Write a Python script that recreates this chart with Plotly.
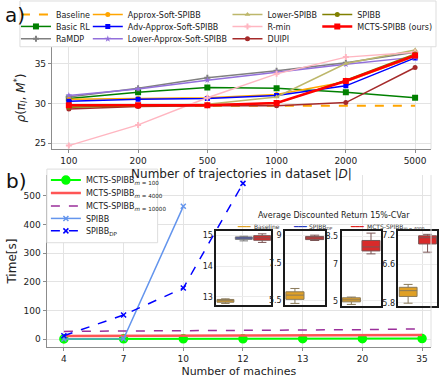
import plotly.graph_objects as go

W, H = 439, 378
def X(p): return p / W
def Y(p): return 1 - p / H

FONT = "DejaVu Sans"

# ---------------- panel a data ----------------
dataset_sizes = ["100", "200", "500", "1000", "2000", "5000"]
baseline_a = [29.7, 29.7, 29.7, 29.7, 29.7, 29.7]
basic_rl = [30.6, 31.4, 32.0, 31.9, 31.4, 30.7]
ramdp = [30.8, 31.9, 33.2, 34.1, 35.1, 36.4]
approx_soft = [30.5, 30.6, 30.7, 31.1, 32.7, 35.9]
adv_approx_soft = [30.25, 30.5, 30.6, 31.0, 32.2, 35.7]
lower_approx_soft = [31.0, 31.8, 32.9, 33.9, 34.9, 35.8]
lower_spibb = [29.6, 29.7, 29.9, 30.8, 35.0, 36.7]
r_min = [24.7, 27.3, 30.7, 33.7, 35.8, 36.4]
duipi = [29.3, 29.6, 29.7, 29.7, 30.1, 34.5]
spibb_a = [29.5, 29.7, 29.8, 30.0, 32.9, 36.2]
mcts_a = [29.75, 29.75, 29.75, 30.05, 32.8, 36.0]
ticks_a = [25, 30, 35]

# ---------------- panel b data ----------------
machines = ["4", "7", "10", "12", "13", "20", "35"]
mcts_m100 = [0.8, 1.0, 1.1, 1.2, 1.3, 1.5, 1.8]
mcts_m4000 = [11, 11.5, 12, 12.5, 12.5, 13, 14]
mcts_m10000 = [27, 28, 29, 30, 31, 33, 36]
spibb_machines = ["4", "7", "10"]
spibb_time = [0.5, 1.0, 463]
spibb_dp_machines = ["4", "7", "10", "12"]
spibb_dp_time = [12, 84, 178, 543]
ticks_b = [0, 100, 200, 300, 400, 500]

# ---------------- inset box data (15%-CVaR) ----------------
inset_machines = ["12", "13", "20", "35"]
base_q1 = [12.82, 5.54, 4.94, 5.93]
base_med = [12.87, 5.77, 5.05, 6.05]
base_q3 = [12.91, 5.95, 5.16, 6.12]
base_lo = [12.78, 5.32, 4.80, 5.79]
base_hi = [12.93, 6.13, 5.20, 6.18]
dp_q1 = [14.87]
dp_med = [14.91]
dp_q3 = [14.95]
dp_lo = [14.82]
dp_hi = [14.97]
mcts_q1 = [14.84, 8.78, 7.71, 7.02]
mcts_med = [14.92, 8.87, 7.93, 7.15]
mcts_q3 = [14.99, 8.95, 8.28, 7.19]
mcts_lo = [14.77, 8.73, 7.55, 6.85]
mcts_hi = [15.05, 9.02, 8.68, 7.22]
inset_ranges = [[12.74, 15.14], [5.23, 9.22], [4.71, 8.77], [5.73, 7.28]]
inset_ticks = [[13, 14, 15], [5.5, 7.5, 9], [5, 7, 8.5], [5.8, 6.6, 7.2]]
inset_ticktext = [["13", "14", "15"], ["5.5", "7.5", "9"], ["5", "7", "8.5"], ["5.8", "6.6", "7.2"]]

fig = go.Figure()

# ---- panel a traces ----
series_a = [
    ("Baseline", baseline_a, "#ffa500", "dash", None, 2, 1),
    ("Basic RL", basic_rl, "#008000", "solid", "square", 1.5, 2),
    ("RaMDP", ramdp, "#808080", "solid", "cross", 1.5, 3),
    ("Approx-Soft-SPIBB", approx_soft, "#ffa500", "solid", "circle", 1.5, 1),
    ("Adv-Approx-Soft-SPIBB", adv_approx_soft, "#0000ff", "solid", "square", 1.5, 2),
    ("Lower-Approx-Soft-SPIBB", lower_approx_soft, "#9370db", "solid", "star", 1.5, 3),
    ("Lower-SPIBB", lower_spibb, "#bdb76b", "solid", "triangle-up", 1.5, 1),
    ("R-min", r_min, "#ffb6c1", "solid", "cross", 1.5, 2),
    ("DUIPI", duipi, "#a52a2a", "solid", "circle", 1.5, 3),
    ("SPIBB", spibb_a, "#808000", "solid", "circle", 1.5, 1),
    ("MCTS-SPIBB (ours)", mcts_a, "#ff0000", "solid", "square", 2.5, 2),
]
col_text_x = {"Baseline": 56, "Basic RL": 56, "RaMDP": 56,
              "Approx-Soft-SPIBB": 128, "Adv-Approx-Soft-SPIBB": 128, "Lower-Approx-Soft-SPIBB": 128,
              "Lower-SPIBB": 268, "R-min": 268, "DUIPI": 268,
              "SPIBB": 358, "MCTS-SPIBB (ours)": 358}
row_y = {1: 14, 2: 26.5, 3: 39}

legend_layouts = {}
li = 1
for name, vals, col, dash, sym, lw, row in series_a:
    lname = "legend" if li == 1 else f"legend{li}"
    mode = "lines" if sym is None else "lines+markers"
    msize = 6 if name in ("Basic RL", "MCTS-SPIBB (ours)") else 5
    fig.add_trace(go.Scatter(
        x=dataset_sizes, y=vals, name=name, mode=mode,
        line=dict(color=col, width=lw, dash=dash),
        marker=dict(symbol=sym or "circle", size=msize, color=col),
        xaxis="x", yaxis="y", legend=lname))
    legend_layouts[lname] = dict(
        x=X(col_text_x[name] - 40), y=Y(row_y[row] - 14.5), xanchor="left", yanchor="top",
        bgcolor="rgba(0,0,0,0)", borderwidth=0, font=dict(family=FONT, size=8, color="#222"))
    li += 1

# ---- panel b traces ----
series_b = [
    ("MCTS-SPIBB<sub><i>m</i> = 100</sub>", machines, mcts_m100, "#00ff00", "solid", "circle", 2, 8, 181),
    ("MCTS-SPIBB<sub><i>m</i> = 4000</sub>", machines, mcts_m4000, "#ff5555", "solid", None, 2.5, 0, 194),
    ("MCTS-SPIBB<sub><i>m</i> = 10000</sub>", machines, mcts_m10000, "#9b2f9b", "dash", None, 1.5, 0, 207),
    ("SPIBB", spibb_machines, spibb_time, "#6495ed", "solid", "x-thin", 1.5, 5, 219.5),
    ("SPIBB<sub>DP</sub>", spibb_dp_machines, spibb_dp_time, "#0000ff", "dash", "x-thin", 1.5, 5, 232),
]
for name, xs, vals, col, dash, sym, lw, ms, ry in series_b:
    lname = f"legend{li}"
    mode = "lines" if sym is None else "lines+markers"
    fig.add_trace(go.Scatter(
        x=xs, y=vals, name=name, mode=mode,
        line=dict(color=col, width=lw, dash=dash),
        marker=dict(symbol=sym or "circle", size=ms, color=col, line=dict(color=col, width=1.5)),
        xaxis="x2", yaxis="y2", legend=lname))
    legend_layouts[lname] = dict(
        x=X(86 - 40), y=Y(ry - 14.5), xanchor="left", yanchor="top",
        bgcolor="rgba(0,0,0,0)", borderwidth=0, font=dict(family=FONT, size=8, color="#222"))
    li += 1

# ---- inset boxes ----
BASE_FILL, DP_FILL, MCTS_FILL = "#e0a025", "#2a3bc0", "#d92a2a"
for k in range(4):
    ax = k + 3
    fig.add_trace(go.Box(
        x=["Baseline"], q1=[base_q1[k]], median=[base_med[k]], q3=[base_q3[k]],
        lowerfence=[base_lo[k]], upperfence=[base_hi[k]], width=0.92,
        fillcolor=BASE_FILL, line=dict(color="#8a7a5a", width=1), whiskerwidth=0.5,
        boxpoints=False, showlegend=False, xaxis=f"x{ax}", yaxis=f"y{ax}", name="Baseline"))
    if k == 0:
        fig.add_trace(go.Box(
            x=["SPIBB_DP"], q1=dp_q1, median=dp_med, q3=dp_q3,
            lowerfence=dp_lo, upperfence=dp_hi, width=0.92,
            fillcolor=DP_FILL, line=dict(color="#777777", width=1), whiskerwidth=0.5,
            boxpoints=False, showlegend=False, xaxis=f"x{ax}", yaxis=f"y{ax}", name="SPIBB_DP"))
    fig.add_trace(go.Box(
        x=["MCTS"], q1=[mcts_q1[k]], median=[mcts_med[k]], q3=[mcts_q3[k]],
        lowerfence=[mcts_lo[k]], upperfence=[mcts_hi[k]], width=0.92,
        fillcolor=MCTS_FILL, line=dict(color="#7a5555", width=1), whiskerwidth=0.5,
        boxpoints=False, showlegend=False, xaxis=f"x{ax}", yaxis=f"y{ax}", name="MCTS"))

GRID = "#e3e3e3"
SPINE = "#8c8c8c"
axfont = dict(family=FONT, size=9, color="#222")

layout = dict(
    width=W, height=H, margin=dict(l=0, r=0, t=0, b=0),
    paper_bgcolor="white", plot_bgcolor="rgba(0,0,0,0)",
    font=dict(family=FONT, color="#222"),
    xaxis=dict(domain=[X(52), X(432)], anchor="y", type="category",
               categoryorder="array", categoryarray=dataset_sizes,
               range=[-0.245, 5.23], showgrid=True, gridcolor=GRID,
               showline=True, linecolor=SPINE, ticks="outside", ticklen=3, tickcolor=SPINE,
               tickfont=axfont, zeroline=False,
               title=dict(text="Number of trajectories in dataset |<i>D</i>|",
                          font=dict(family=FONT, size=12), standoff=4)),
    yaxis=dict(domain=[Y(150), Y(47)], anchor="x", range=[24.25, 37.1],
               tickvals=ticks_a, showgrid=True, gridcolor=GRID,
               showline=True, linecolor=SPINE, ticks="outside", ticklen=3, tickcolor=SPINE,
               tickfont=axfont, zeroline=False,
               title=dict(text="<i>ρ</i>(<i>π<sub>I</sub></i>, <i>M</i><sup>*</sup>)",
                          font=dict(family=FONT, size=12), standoff=6)),
    xaxis2=dict(domain=[X(46.7), X(432)], anchor="y2", type="category",
                categoryorder="array", categoryarray=machines,
                range=[-0.29, 6.15], showgrid=True, gridcolor=GRID,
                showline=True, linecolor=SPINE, ticks="outside", ticklen=3, tickcolor=SPINE,
                tickfont=axfont, zeroline=False,
                title=dict(text="Number of machines", font=dict(family=FONT, size=11), standoff=6)),
    yaxis2=dict(domain=[Y(349), Y(176)], anchor="x2", range=[-28, 572],
                tickvals=ticks_b, showgrid=True, gridcolor=GRID,
                showline=True, linecolor=SPINE, ticks="outside", ticklen=3, tickcolor=SPINE,
                tickfont=axfont, zeroline=False,
                title=dict(text="Time[s]", font=dict(family=FONT, size=12), standoff=4)),
)

inset_px = [(216.7, 272.0, 232.3, 306.3), (285.7, 325.3, 232.7, 306.7),
            (342.3, 381.7, 232.7, 307.7), (399.3, 438.3, 232.7, 307.7)]
for k in range(4):
    ax = k + 3
    x0, x1, y0, y1 = inset_px[k]
    cats = ["Baseline", "SPIBB_DP", "MCTS"] if k == 0 else ["Baseline", "MCTS"]
    layout[f"xaxis{ax}"] = dict(domain=[X(x0), X(x1)], anchor=f"y{ax}", type="category",
                                categoryorder="array", categoryarray=cats,
                                range=[-0.5, len(cats) - 0.5], showticklabels=False,
                                showgrid=False, showline=True, mirror=True,
                                linecolor="#1a1a1a", linewidth=1.5, ticks="", zeroline=False)
    layout[f"yaxis{ax}"] = dict(domain=[Y(y1), Y(y0)], anchor=f"x{ax}", range=inset_ranges[k],
                                tickvals=inset_ticks[k], ticktext=inset_ticktext[k],
                                showgrid=True, gridcolor="#ececec", showline=True, mirror=True,
                                linecolor="#1a1a1a", linewidth=1.5, ticks="", zeroline=False,
                                tickfont=dict(family=FONT, size=8, color="#222"))

layout.update(legend_layouts)
fig.update_layout(**layout)

# legend frames and decorations
fig.add_shape(type="rect", xref="paper", yref="paper", x0=X(20), x1=X(437), y0=Y(47), y1=Y(1),
              line=dict(color="#dddddd", width=1), fillcolor="white", layer="above")
fig.add_shape(type="rect", xref="paper", yref="paper", x0=X(47), x1=X(158), y0=Y(244), y1=Y(170),
              line=dict(color="#dddddd", width=1), fillcolor="white", layer="above")
fig.add_shape(type="line", xref="x domain", yref="y domain", x0=1, x1=1, y0=0, y1=1,
              line=dict(color="#e0e0e0", width=1))
fig.add_shape(type="line", xref="x2 domain", yref="y2 domain", x0=1, x1=1, y0=0, y1=1,
              line=dict(color="#e0e0e0", width=1))

fig.add_annotation(text="a)", xref="paper", yref="paper", x=X(3), y=Y(15), xanchor="left",
                   yanchor="middle", showarrow=False, font=dict(family=FONT, size=20, color="#111"))
fig.add_annotation(text="b)", xref="paper", yref="paper", x=X(4), y=Y(182), xanchor="left",
                   yanchor="middle", showarrow=False, font=dict(family=FONT, size=20, color="#111"))
fig.add_annotation(text="Average Discounted Return 15%-CVar", xref="paper", yref="paper",
                   x=X(335), y=Y(217), xanchor="center", yanchor="middle", showarrow=False,
                   font=dict(family=FONT, size=8, color="#222"))
inset_leg = [("Baseline", BASE_FILL, 236, 253), ("SPIBB<sub>DP</sub>", "#2a3bc0", 292, 308),
             ("MCTS-SPIBB<sub><i>m</i> = 4000</sub>", "#e02020", 349, 366)]
for lab, col, xl, xt in inset_leg:
    fig.add_annotation(text="━━━", xref="paper", yref="paper",
                       x=X(xl), y=Y(228), xanchor="left", yanchor="middle", showarrow=False,
                       font=dict(family=FONT, size=7, color=col))
    fig.add_annotation(text=lab, xref="paper", yref="paper",
                       x=X(xt), y=Y(228), xanchor="left", yanchor="middle", showarrow=False,
                       font=dict(family=FONT, size=6, color="#333"))

fig.write_html("out.html", config={"displayModeBar": False},
               post_script="document.body.style.margin='0px';document.body.style.overflow='hidden';")
